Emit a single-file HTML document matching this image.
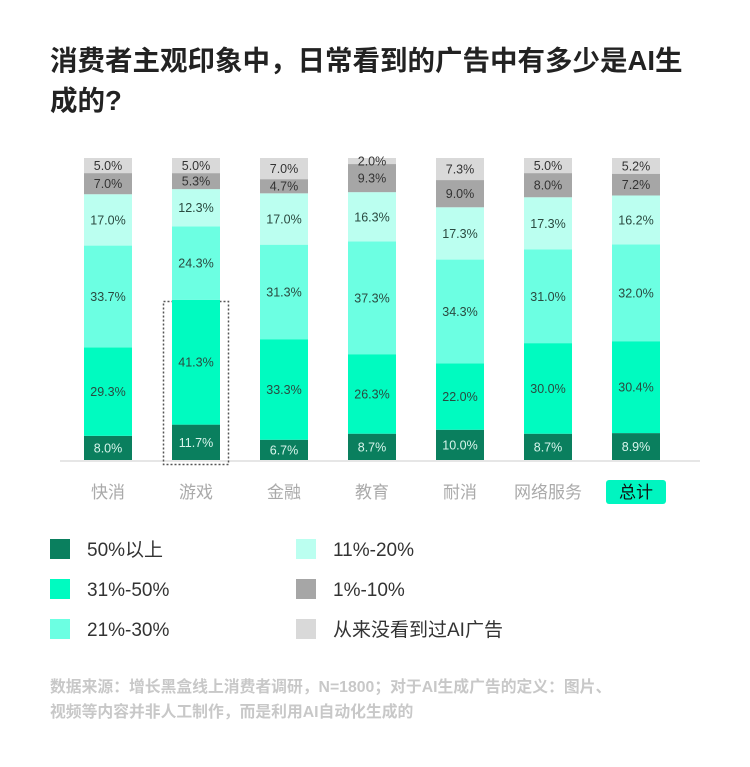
<!DOCTYPE html>
<html><head><meta charset="utf-8">
<style>
body{margin:0;background:#fff;width:750px;height:762px;overflow:hidden;font-family:"Liberation Sans","Noto Sans CJK SC",sans-serif;}
svg text{font-family:"Liberation Sans","Noto Sans CJK SC",sans-serif;}
</style></head>
<body>
<svg id="chart" width="750" height="762">
<text x="50" y="70" font-size="27.5" font-weight="bold" fill="#222">消费者主观印象中，日常看到的广告中有多少是AI生</text>
<text x="50" y="110" font-size="27.5" font-weight="bold" fill="#222">成的?</text>
<line x1="60" y1="461" x2="700" y2="461" stroke="#e6e6e6" stroke-width="2"/>
<rect x="606" y="480" width="60" height="24" rx="3" fill="#00f5c0"/>
<rect x="163.5" y="301.5" width="65" height="163" fill="none" stroke="#555" stroke-width="1.5" stroke-dasharray="2,2"/>
<g id="bars"></g>
<g id="legend"></g>
<text x="50" y="692" font-size="15.8" font-weight="bold" fill="#c8c8c8">数据来源：增长黑盒线上消费者调研，N=1800；对于AI生成广告的定义：图片、</text>
<text x="50" y="717" font-size="15.8" font-weight="bold" fill="#c8c8c8">视频等内容并非人工制作，而是利用AI自动化生成的</text>
</svg>
<script>
const categories=["快消","游戏","金融","教育","耐消","网络服务","总计"];
const s50plus=[8.0,11.7,6.7,8.7,10.0,8.7,8.9];
const s31to50=[29.3,41.3,33.3,26.3,22.0,30.0,30.4];
const s21to30=[33.7,24.3,31.3,37.3,34.3,31.0,32.0];
const s11to20=[17.0,12.3,17.0,16.3,17.3,17.3,16.2];
const s1to10=[7.0,5.3,4.7,9.3,9.0,8.0,7.2];
const sNever=[5.0,5.0,7.0,2.0,7.3,5.0,5.2];
const seriesNames=["50%以上","31%-50%","21%-30%","11%-20%","1%-10%","从来没看到过AI广告"];
const series=[s50plus,s31to50,s21to30,s11to20,s1to10,sNever];
const colors=["#0a7f5e","#00fbc0","#6cffe2","#bbfff0","#a6a6a6","#d9d9d9"];
const textColors=["#d8f5ec","#2a4a40","#2a4a40","#2a4a40","#333","#333"];
const NS="http://www.w3.org/2000/svg";
const baseY=460, plotH=302, x0=84, step=88, bw=48;
const xPos=i=>x0+i*step;
const yScale=(v,tot)=>v/tot*plotH;
const g=document.getElementById('bars');
categories.forEach((c,i)=>{
  let tot=series.reduce((a,s)=>a+s[i],0);
  let y=baseY;
  series.forEach((s,k)=>{
    const h=yScale(s[i],tot);
    y-=h;
    const r=document.createElementNS(NS,'rect');
    r.setAttribute('x',xPos(i));r.setAttribute('y',y);r.setAttribute('width',bw);r.setAttribute('height',h);r.setAttribute('fill',colors[k]);
    
    
    g.appendChild(r);
    const t=document.createElementNS(NS,'text');
    t.setAttribute('x',xPos(i)+bw/2);t.setAttribute('y',y+h/2+4.5);t.setAttribute('text-anchor','middle');t.setAttribute('font-size','12.5');t.setAttribute('fill',textColors[k]);
    t.textContent=s[i].toFixed(1)+'%';
    
    
    g.appendChild(t);
  });
  const l=document.createElementNS(NS,'text');
  l.setAttribute('x',xPos(i)+bw/2);l.setAttribute('y',498);l.setAttribute('text-anchor','middle');l.setAttribute('font-size','17');
  l.setAttribute('fill',i===6?'#111':'#aaa');
  l.textContent=c;
  
  
  g.appendChild(l);
});
const lg=document.getElementById('legend');
seriesNames.forEach((n,k)=>{
  const col=k<3?0:1, row=k%3;
  const lx=col?296:50, ly=539+row*40;
  const r=document.createElementNS(NS,'rect');
  r.setAttribute('x',lx);r.setAttribute('y',ly);r.setAttribute('width',20);r.setAttribute('height',20);r.setAttribute('fill',colors[k]);
  
  
  lg.appendChild(r);
  const t=document.createElementNS(NS,'text');
  t.setAttribute('x',lx+37);t.setAttribute('y',ly+17);t.setAttribute('font-size','19');t.setAttribute('fill','#333');
  t.textContent=n;
  
  
  lg.appendChild(t);
});
</script>
</body></html>
